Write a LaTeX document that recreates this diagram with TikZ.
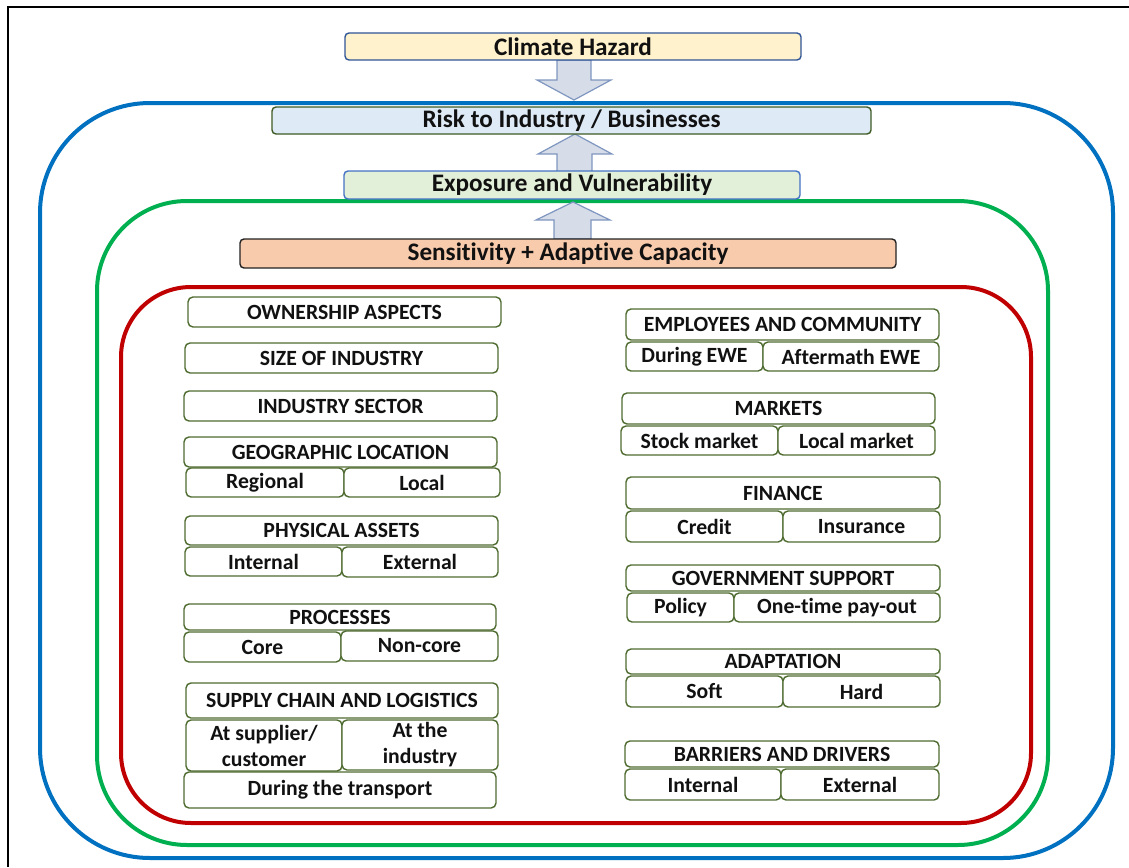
\documentclass[tikz,border=0pt]{standalone}
\usepackage{fontspec}
\setmainfont{Carlito}[Ligatures=NoCommon]
\definecolor{chfill}{HTML}{FFF2CC}
\definecolor{chdraw}{HTML}{2F5597}
\definecolor{riskfill}{HTML}{DEEBF7}
\definecolor{riskdraw}{HTML}{3D5A24}
\definecolor{expfill}{HTML}{E2F0D9}
\definecolor{expdraw}{HTML}{4472C4}
\definecolor{senfill}{HTML}{F8CBAD}
\definecolor{sendraw}{HTML}{222222}
\definecolor{itemdraw}{HTML}{4E6B30}
\definecolor{arrfill}{HTML}{D6DCE8}
\definecolor{arrdraw}{HTML}{7F96C0}
\definecolor{ringblue}{HTML}{0070C0}
\definecolor{ringgreen}{HTML}{00B050}
\definecolor{ringred}{HTML}{C00000}
\definecolor{txt}{HTML}{111111}
\newcommand\mybox[7][item]{%
  \pgfmathsetmacro\cx{(#3+#5)/2}\pgfmathsetmacro\cy{(#4+#6)/2}%
  \pgfmathsetmacro\bw{#5-#3}\pgfmathsetmacro\bh{#6-#4}%
  \node[#1,minimum width=\bw pt,minimum height=\bh pt] (#2) at (\cx,\cy) {#7};}
\tikzset{
  item/.style={draw=itemdraw,line width=1.4pt,fill=white,rounded corners=5pt,inner sep=0pt,
    text=txt,align=center,font=\fontsize{21.7}{26}\selectfont\bfseries},
  head/.style={line width=1.4pt,rounded corners=4pt,inner sep=0pt,text=txt,
    font=\fontsize{25.2}{28}\selectfont\bfseries},
  blockarrow/.style={fill=arrfill,draw=arrdraw,line width=1.2pt,line join=miter},
  ring/.style={line width=4pt},
}
\begin{document}
\begin{tikzpicture}[x=1pt,y=-1pt]
\useasboundingbox (0,0) rectangle (1129,867);
% frame
\draw[line width=2pt,black] (1129,7) -- (8,7) -- (8,867);
% rings
\draw[ring,ringblue,rounded corners=110pt] (40,103) rectangle (1113,858);
\draw[ring,ringgreen,rounded corners=90pt] (97,201) rectangle (1048,845);
\draw[ring,ringred,rounded corners=70pt] (121,287) rectangle (1031,823);
% block arrows
\draw[blockarrow] (557,60) -- (557,80) -- (537,80) -- (574,100) -- (611,80) -- (591,80) -- (591,60) -- cycle;
\draw[blockarrow] (557,172) -- (557,154) -- (538,154) -- (575,134) -- (612,154) -- (592,154) -- (592,172) -- cycle;
\draw[blockarrow] (554,239) -- (554,220) -- (536,220) -- (573,202) -- (610,220) -- (591,220) -- (591,239) -- cycle;
% headings
\mybox[head,fill=chfill,draw=chdraw]{ch}{345}{33}{801}{60}{Climate Hazard}
\mybox[head,fill=riskfill,draw=riskdraw]{risk}{272}{107}{871}{134}{Risk to Industry / Businesses}
\mybox[head,fill=expfill,draw=expdraw]{exp}{344}{171}{800}{199}{Exposure and Vulnerability}
\mybox[head,fill=senfill,draw=sendraw]{sen}{240}{239}{896}{268}{Sensitivity + Adaptive Capacity}
% left column
\mybox{own}{188}{297}{501}{327}{OWNERSHIP ASPECTS}
\mybox{size}{185}{343}{498}{373}{SIZE OF INDUSTRY}
\mybox{sector}{184}{391}{497}{421}{INDUSTRY SECTOR}
\mybox{geo}{184}{437}{497}{467}{GEOGRAPHIC LOCATION}
\mybox{geoa}{186}{468}{344}{497}{Regional}
\mybox{geob}{344}{468}{500}{497}{Local}
\mybox{phys}{185}{516}{498}{545}{PHYSICAL ASSETS}
\mybox{physa}{185}{547}{342}{576}{Internal}
\mybox{physb}{342}{547}{498}{577}{External}
\mybox{proc}{184}{604}{496}{630}{PROCESSES}
\mybox{proca}{184}{632}{341}{662}{Core}
\mybox{procb}{341}{631}{498}{661}{Non-core}
\mybox{sup}{186}{683}{498}{718}{SUPPLY CHAIN AND LOGISTICS}
\mybox{supa}{186}{720}{342}{771}{At supplier/\\customer}
\mybox{supb}{342}{720}{498}{770}{At the\\industry}
\mybox{supc}{184}{772}{496}{808}{During the transport}
% right column
\mybox{emp}{626}{309}{939}{340}{EMPLOYEES AND COMMUNITY}
\mybox{empa}{626}{342}{763}{371}{During EWE}
\mybox{empb}{763}{342}{939}{371}{Aftermath EWE}
\mybox{mkt}{622}{393}{935}{424}{MARKETS}
\mybox{mkta}{621}{426}{778}{455}{Stock market}
\mybox{mktb}{778}{426}{935}{455}{Local market}
\mybox{fin}{626}{477}{940}{509}{FINANCE}
\mybox{fina}{626}{511}{783}{542}{Credit}
\mybox{finb}{783}{511}{940}{542}{Insurance}
\mybox{gov}{626}{565}{940}{591}{GOVERNMENT SUPPORT}
\mybox{gova}{627}{593}{734}{622}{Policy}
\mybox{govb}{734}{593}{940}{622}{One-time pay-out}
\mybox{adp}{626}{649}{940}{674}{ADAPTATION}
\mybox{adpa}{626}{676}{783}{707}{Soft}
\mybox{adpb}{783}{676}{940}{707}{Hard}
\mybox{bar}{625}{741}{939}{767}{BARRIERS AND DRIVERS}
\mybox{bara}{625}{769}{781}{800}{Internal}
\mybox{barb}{781}{769}{939}{800}{External}
\end{tikzpicture}
\end{document}
